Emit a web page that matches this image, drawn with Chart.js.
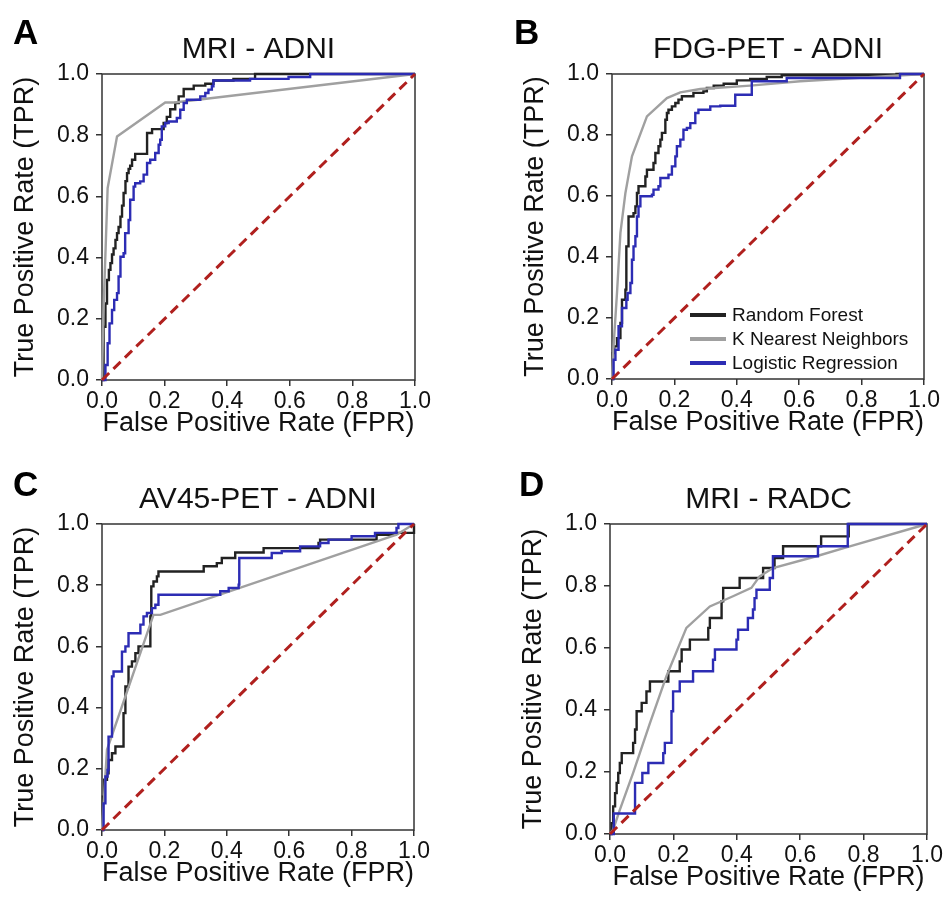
<!DOCTYPE html>
<html><head><meta charset="utf-8">
<script src="https://cdn.jsdelivr.net/npm/chart.js@4/dist/chart.umd.min.js"></script>
<style>
html,body{margin:0;padding:0;background:#fff;width:948px;height:898px;overflow:hidden;font-family:'Liberation Sans',Arial,sans-serif;}
canvas{position:absolute;}
.letter{position:absolute;font-weight:bold;font-size:35px;color:#000;line-height:1;}
#legend{position:absolute;left:690px;top:303px;font-size:19px;color:#111;}
#legend div{display:flex;align-items:center;height:24px;}
#legend span.sw{display:inline-block;width:36px;height:4px;margin-right:6px;}
</style></head><body>
<script>
// ---- data ----
const fprTicks = [0, 0.2, 0.4, 0.6, 0.8, 1.0];
const tprTicks = [0, 0.2, 0.4, 0.6, 0.8, 1.0];
const models = ['Random Forest', 'K Nearest Neighbors', 'Logistic Regression'];
const panelLetters = ['A', 'B', 'C', 'D'];
const panelTitles = ['MRI - ADNI', 'FDG-PET - ADNI', 'AV45-PET - ADNI', 'MRI - RADC'];
const chanceFpr = [0, 1];
const chanceTpr = [0, 1];

// Panel A: MRI - ADNI
const rfA_fpr = [0,0.005,0.011,0.016,0.022,0.027,0.032,0.037,0.043,0.048,0.053,0.059,0.064,0.069,0.075,0.080,0.085,0.090,0.096,0.106,0.144,0.160,0.197,0.207,0.218,0.234,0.245,0.261,0.293,0.330,0.356,0.420,0.489,1];
const rfA_tpr = [0,0.174,0.25,0.327,0.36,0.382,0.41,0.43,0.458,0.48,0.50,0.534,0.57,0.611,0.65,0.676,0.69,0.70,0.720,0.739,0.807,0.820,0.840,0.86,0.885,0.905,0.927,0.951,0.962,0.968,0.979,0.984,1.0,1];
const knnA_fpr = [0,0.004,0.018,0.048,0.202,0.232,1];
const knnA_tpr = [0,0.2,0.627,0.796,0.907,0.907,1];
const lrA_fpr = [0,0.011,0.018,0.024,0.032,0.039,0.048,0.053,0.059,0.069,0.074,0.085,0.090,0.101,0.106,0.122,0.133,0.144,0.154,0.170,0.181,0.186,0.191,0.202,0.213,0.239,0.250,0.261,0.271,0.314,0.330,0.340,0.351,0.356,0.473,0.596,0.665,1];
const lrA_tpr = [0,0.049,0.12,0.185,0.229,0.262,0.284,0.338,0.403,0.414,0.480,0.523,0.589,0.632,0.643,0.649,0.671,0.709,0.720,0.742,0.769,0.785,0.829,0.840,0.845,0.856,0.883,0.905,0.916,0.927,0.938,0.949,0.960,0.979,0.984,0.99,1.0,1];

// Panel B: FDG-PET - ADNI
const rfB_fpr = [0,0.003,0.007,0.016,0.027,0.032,0.043,0.046,0.053,0.069,0.075,0.080,0.085,0.107,0.112,0.133,0.139,0.149,0.155,0.160,0.171,0.176,0.181,0.192,0.203,0.213,0.224,0.261,0.293,0.304,0.326,0.358,0.400,0.443,0.496,0.544,0.912,1];
const rfB_tpr = [0,0.085,0.107,0.134,0.184,0.260,0.293,0.435,0.533,0.544,0.566,0.610,0.632,0.664,0.686,0.708,0.741,0.763,0.785,0.807,0.850,0.872,0.883,0.894,0.905,0.916,0.927,0.938,0.943,0.954,0.962,0.968,0.979,0.984,0.990,0.996,1.0,1];
const knnB_fpr = [0,0.005,0.016,0.027,0.043,0.064,0.112,0.176,0.219,0.283,0.443,0.603,1];
const knnB_tpr = [0,0.107,0.282,0.479,0.610,0.730,0.861,0.921,0.940,0.951,0.962,0.976,1];
const lrB_fpr = [0,0.005,0.011,0.021,0.032,0.046,0.050,0.059,0.064,0.069,0.075,0.080,0.085,0.091,0.128,0.133,0.149,0.155,0.181,0.192,0.203,0.208,0.219,0.229,0.240,0.251,0.267,0.277,0.315,0.347,0.395,0.448,0.560,0.923,1];
const lrB_tpr = [0,0.063,0.096,0.173,0.233,0.260,0.282,0.315,0.391,0.435,0.468,0.533,0.566,0.599,0.604,0.621,0.632,0.659,0.670,0.697,0.730,0.763,0.785,0.817,0.823,0.839,0.872,0.883,0.894,0.896,0.932,0.976,0.987,1.0,1];

// Panel C: AV45-PET - ADNI
const rfC_fpr = [0,0.003,0.007,0.016,0.021,0.032,0.043,0.069,0.075,0.085,0.096,0.107,0.117,0.155,0.158,0.165,0.176,0.181,0.326,0.368,0.384,0.427,0.518,0.694,0.699,0.880,0.939,1];
const rfC_tpr = [0,0.109,0.164,0.185,0.229,0.251,0.273,0.382,0.469,0.534,0.551,0.578,0.600,0.698,0.796,0.812,0.829,0.845,0.862,0.872,0.889,0.907,0.921,0.938,0.949,0.965,0.971,1];
const knnC_fpr = [0,0.016,0.165,0.187,0.944,1];
const knnC_tpr = [0,0.262,0.703,0.703,0.965,1];
const lrC_fpr = [0,0.005,0.011,0.018,0.021,0.032,0.037,0.064,0.075,0.085,0.123,0.133,0.144,0.160,0.171,0.181,0.379,0.406,0.438,0.440,0.544,0.576,0.635,0.699,0.726,0.800,0.875,0.944,0.950,1];
const lrC_tpr = [0,0.087,0.175,0.196,0.305,0.502,0.518,0.583,0.600,0.643,0.671,0.698,0.709,0.725,0.736,0.769,0.780,0.791,0.802,0.889,0.905,0.911,0.927,0.938,0.949,0.960,0.971,0.987,1.0,1];

// Panel D: MRI - RADC
const rfD_fpr = [0,0.005,0.010,0.016,0.021,0.026,0.031,0.037,0.073,0.079,0.084,0.100,0.115,0.126,0.184,0.220,0.226,0.252,0.310,0.315,0.352,0.357,0.409,0.483,0.519,0.546,0.666,0.753,1];
const rfD_tpr = [0,0.035,0.089,0.132,0.165,0.197,0.229,0.261,0.294,0.337,0.396,0.423,0.460,0.492,0.525,0.557,0.595,0.627,0.665,0.697,0.751,0.794,0.826,0.858,0.890,0.928,0.960,1.0,1];
const knnD_fpr = [0,0.010,0.031,0.073,0.126,0.178,0.241,0.315,0.388,0.446,0.472,0.514,0.651,0.740,1];
const knnD_tpr = [0,0.014,0.078,0.197,0.358,0.509,0.665,0.734,0.767,0.794,0.831,0.858,0.896,0.923,1];
const lrD_fpr = [0,0.012,0.079,0.102,0.121,0.168,0.173,0.194,0.199,0.220,0.262,0.325,0.331,0.399,0.404,0.435,0.451,0.456,0.462,0.504,0.514,0.656,0.750,1];
const lrD_tpr = [0,0.066,0.165,0.197,0.229,0.261,0.294,0.396,0.460,0.492,0.525,0.562,0.595,0.627,0.659,0.697,0.724,0.761,0.788,0.826,0.896,0.928,1.0,1];

// ---- styles / layout ----
const colors = {rf: '#222222', knn: '#a0a0a0', lr: '#2c2cb4', chance: '#b0201e'};
const panelAreas = [[102,74,415,380],[612,74,924,379],[102,524,414,830],[610,524,927,834]];
const letterPos = [[13,14],[514,14],[13,466],[519,466]];
const panelSeries = [
  {rf:[rfA_fpr,rfA_tpr], knn:[knnA_fpr,knnA_tpr], lr:[lrA_fpr,lrA_tpr]},
  {rf:[rfB_fpr,rfB_tpr], knn:[knnB_fpr,knnB_tpr], lr:[lrB_fpr,lrB_tpr]},
  {rf:[rfC_fpr,rfC_tpr], knn:[knnC_fpr,knnC_tpr], lr:[lrC_fpr,lrC_tpr]},
  {rf:[rfD_fpr,rfD_tpr], knn:[knnD_fpr,knnD_tpr], lr:[lrD_fpr,lrD_tpr]}
];

Chart.defaults.font.family = "'Liberation Sans', Arial, sans-serif";
Chart.defaults.color = '#111';

const toXY = (xs, ys) => xs.map((x, k) => ({x: x, y: ys[k]}));

const framePlugin = {
  id: 'frame',
  beforeDatasetsDraw(chart) {
    const {ctx, chartArea: {left, top, right, bottom}} = chart;
    ctx.save();
    ctx.strokeStyle = '#333';
    ctx.lineWidth = 1.5;
    ctx.strokeRect(left, top, right - left, bottom - top);
    ctx.restore();
  }
};

function makePanel(i) {
  const [L, T, R, B] = panelAreas[i];
  const YW = 102, TOP = 74, XH = 69, PR = 24;
  const cv = document.createElement('canvas');
  cv.width = (R - L) + YW + PR;
  cv.height = (B - T) + TOP + XH;
  cv.style.left = (L - YW) + 'px';
  cv.style.top = (T - TOP) + 'px';
  document.body.appendChild(cv);
  const titleSize = 30, lh = titleSize * 1.2, pb = 6;
  const s = panelSeries[i];
  const tickGrid = {display: true, drawOnChartArea: false, drawTicks: true, tickLength: 6, color: '#333', lineWidth: 1.5};
  new Chart(cv, {
    type: 'line',
    data: {datasets: [
      {label: 'Chance', data: toXY(chanceFpr, chanceTpr), borderColor: colors.chance, borderDash: [10, 6], borderWidth: 3, order: 0},
      {label: models[2], data: toXY(s.lr[0], s.lr[1]), borderColor: colors.lr, stepped: 'before', order: 1},
      {label: models[1], data: toXY(s.knn[0], s.knn[1]), borderColor: colors.knn, order: 2},
      {label: models[0], data: toXY(s.rf[0], s.rf[1]), borderColor: colors.rf, stepped: 'before', order: 3}
    ]},
    options: {
      responsive: false, animation: false, events: [],
      layout: {padding: {top: TOP - lh - pb, right: PR, left: 0, bottom: 0}},
      elements: {point: {radius: 0}, line: {borderWidth: 2.4, tension: 0, fill: false}},
      datasets: {line: {clip: false}},
      plugins: {
        legend: {display: false}, tooltip: {enabled: false},
        title: {display: true, text: panelTitles[i], fullSize: false, color: '#111',
                font: {size: titleSize, weight: 'normal'}, padding: {top: 0, bottom: pb}}
      },
      scales: {
        x: {type: 'linear', min: 0, max: 1,
            afterFit: sc => { sc.height = XH; },
            afterBuildTicks: sc => { sc.ticks = fprTicks.map(v => ({value: v})); },
            ticks: {callback: v => v.toFixed(1), padding: 2, color: '#111', font: {size: 23}, maxRotation: 0, autoSkip: false},
            grid: tickGrid, border: {display: false},
            title: {display: true, text: 'False Positive Rate (FPR)', color: '#111', font: {size: 27}, padding: {top: 0, bottom: 9}}},
        y: {type: 'linear', min: 0, max: 1,
            afterFit: sc => { sc.width = YW; },
            afterBuildTicks: sc => { sc.ticks = tprTicks.map(v => ({value: v})); },
            ticks: {callback: v => v.toFixed(1), padding: 7, color: '#111', font: {size: 23}, autoSkip: false},
            grid: tickGrid, border: {display: false},
            title: {display: true, text: 'True Positive Rate (TPR)', color: '#111', font: {size: 27}, padding: {top: 9, bottom: 0}}}
      }
    },
    plugins: [framePlugin]
  });
  const lt = document.createElement('div');
  lt.className = 'letter';
  lt.textContent = panelLetters[i];
  lt.style.left = letterPos[i][0] + 'px';
  lt.style.top = letterPos[i][1] + 'px';
  document.body.appendChild(lt);
}

for (let i = 0; i < 4; i++) makePanel(i);

// legend (panel B)
const lg = document.createElement('div');
lg.id = 'legend';
[['rf', models[0]], ['knn', models[1]], ['lr', models[2]]].forEach(([k, name]) => {
  const row = document.createElement('div');
  const sw = document.createElement('span');
  sw.className = 'sw';
  sw.style.background = colors[k];
  const tx = document.createElement('span');
  tx.textContent = name;
  row.appendChild(sw); row.appendChild(tx);
  lg.appendChild(row);
});
document.body.appendChild(lg);
</script>
</body></html>
